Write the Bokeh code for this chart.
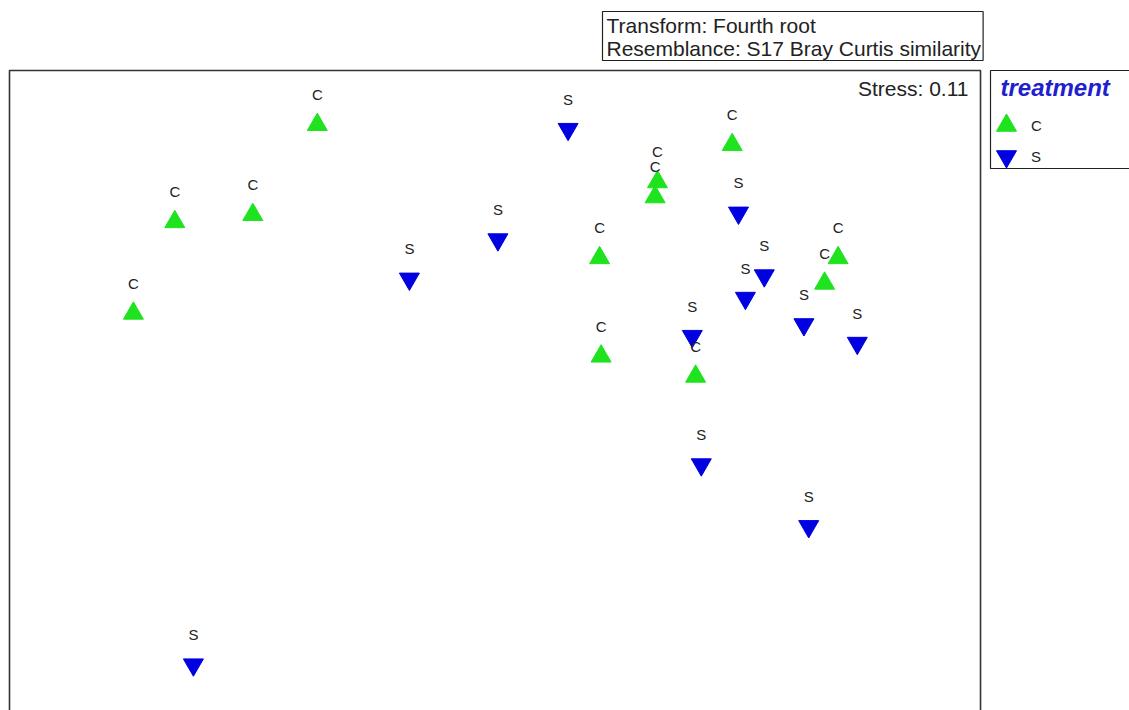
from bokeh.plotting import figure
from bokeh.models import Range1d, ColumnDataSource, Label, Legend, LegendItem, BoxAnnotation
from bokeh.core.properties import value
from bokeh.embed import file_html
from bokeh.resources import INLINE

# nMDS coordinates (arbitrary units)
c_x = [-0.594, -1.069, -0.809, -1.207, 0.789, 0.540, 0.532, 0.347, 0.352, 1.142, 1.097, 0.667]
c_y = [0.886, 0.562, 0.586, 0.257, 0.819, 0.695, 0.645, 0.442, 0.114, 0.442, 0.357, 0.047]
s_x = [0.242, -0.287, 0.008, 0.810, 0.896, 0.833, 0.656, 1.028, 1.206, 0.686, 1.044, -1.007]
s_y = [0.871, 0.372, 0.503, 0.592, 0.383, 0.308, 0.181, 0.220, 0.158, -0.247, -0.453, -0.914]
c_lab = ["C"] * len(c_x)
s_lab = ["S"] * len(s_x)

title_text = "Transform: Fourth root\nResemblance: S17 Bray Curtis similarity"
stress_text = "Stress: 0.11"
legend_title = "treatment"

GREEN = "#1EE31E"
BLUE = "#0000E0"
FONTNAME = "Liberation Sans"
FONT = value(FONTNAME)

# plotting-area limits of the MDS configuration
AX0, AX1, AY1, AY0 = -1.62, 1.6167, 1.0667, -1.2

p = figure(width=1129, height=710, output_backend="svg", toolbar_location=None,
           x_axis_type=None, y_axis_type=None,
           x_range=Range1d(-1.65, 2.1133), y_range=Range1d(-1.0667, 1.3),
           min_border_left=0, min_border_right=0, min_border_top=0, min_border_bottom=0)
p.grid.visible = False
p.outline_line_color = None
p.background_fill_color = "white"
p.border_fill_color = "white"

# frame of the configuration plot (its bottom edge lies below the window)
p.add_layout(BoxAnnotation(left=AX0, right=AX1, top=AY1, bottom=AY0,
                           fill_alpha=0, fill_color=None,
                           line_color="#333333", line_alpha=1.0, line_width=1.6))

src_c = ColumnDataSource(dict(x=c_x, y=c_y, t=c_lab))
src_s = ColumnDataSource(dict(x=s_x, y=s_y, t=s_lab))

rc = p.scatter("x", "y", source=src_c, marker="triangle", size=20,
               fill_color=GREEN, line_color=GREEN)
rs = p.scatter("x", "y", source=src_s, marker="inverted_triangle", size=20,
               fill_color=BLUE, line_color=BLUE)

for src in (src_c, src_s):
    p.text("x", "y", text="t", source=src, y_offset=-30, text_align="center",
           text_baseline="middle", text_font=FONT, text_font_size="15px",
           text_color="#222222")

# transform / resemblance box
p.add_layout(Label(x=602, y=699, x_units="screen", y_units="screen", anchor="top_left",
                   text=title_text, text_font=FONTNAME, text_font_size="21px",
                   text_color="#222222", text_line_height=1.0,
                   padding=dict(left=4, right=2, top=2, bottom=1),
                   border_line_color="#222222", border_line_width=1.2,
                   background_fill_color="white"))

# stress
p.add_layout(Label(x=968, y=622, x_units="screen", y_units="screen",
                   text=stress_text, text_align="right", text_baseline="middle",
                   text_font=FONTNAME, text_font_size="21px", text_color="#222222"))

# legend box with title
p.add_layout(Label(x=990, y=640, x_units="screen", y_units="screen", anchor="top_left",
                   text=legend_title, text_font=FONTNAME, text_font_size="24px",
                   text_font_style="bold italic", text_color="#2020CC",
                   padding=dict(left=10, right=40, top=3, bottom=68),
                   border_line_color="#222222", border_line_width=1.2,
                   background_fill_color="white"))

legend_style = dict(glyph_width=50, glyph_height=50, label_standoff=-10, padding=0, margin=0,
                    label_text_font=FONTNAME, label_text_font_size="15px",
                    label_text_color="#222222", border_line_color=None,
                    background_fill_color=None, background_fill_alpha=0)
p.add_layout(Legend(items=[LegendItem(label="C", renderers=[rc])],
                    location=(981, 560), **legend_style))
p.add_layout(Legend(items=[LegendItem(label="S", renderers=[rs])],
                    location=(981, 529), **legend_style))

open("out.html", "w").write(file_html(p, INLINE))
